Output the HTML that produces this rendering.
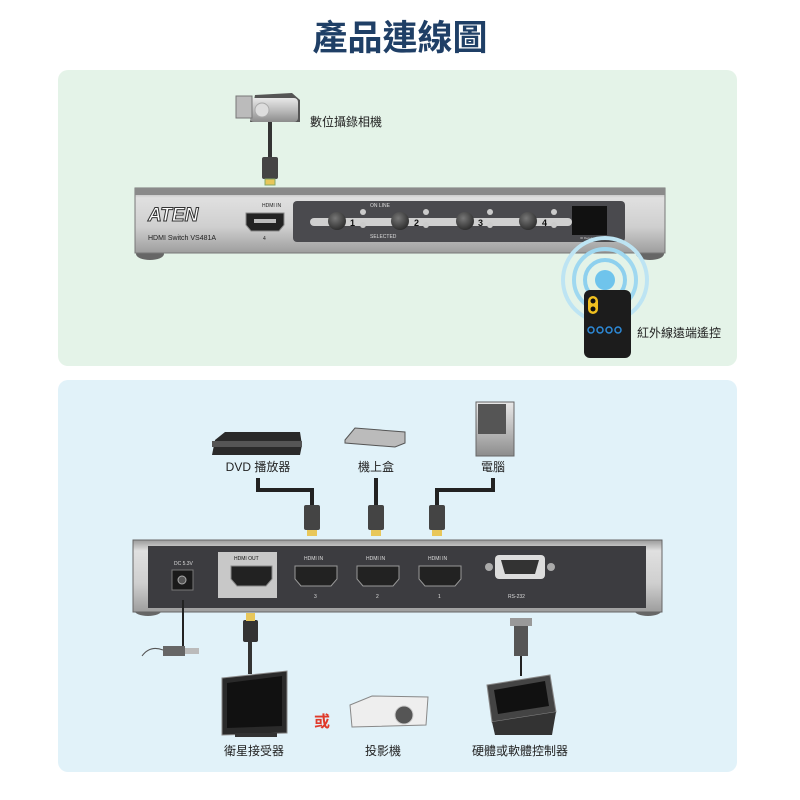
<!DOCTYPE html>
<html><head><meta charset="utf-8"><style>
html,body{margin:0;padding:0;background:#fff;}
svg{display:block}
text{font-family:"Liberation Sans","Noto Sans CJK TC",sans-serif;}
</style></head><body>
<svg width="800" height="800" viewBox="0 0 800 800" xmlns="http://www.w3.org/2000/svg">
<defs>
<linearGradient id="silver" x1="0" y1="0" x2="0" y2="1">
<stop offset="0" stop-color="#e8e8e8"/><stop offset="0.5" stop-color="#bdbdbd"/><stop offset="1" stop-color="#8c8c8c"/></linearGradient>
<linearGradient id="front" x1="0" y1="0" x2="0" y2="1">
<stop offset="0" stop-color="#9a9a9a"/><stop offset="0.15" stop-color="#e0e0e0"/><stop offset="0.6" stop-color="#cfcfcf"/><stop offset="1" stop-color="#9d9d9d"/></linearGradient>
<linearGradient id="dark" x1="0" y1="0" x2="0" y2="1">
<stop offset="0" stop-color="#555"/><stop offset="1" stop-color="#222"/></linearGradient>
<radialGradient id="btn" cx="0.4" cy="0.35" r="0.7"><stop offset="0" stop-color="#777"/><stop offset="1" stop-color="#2a2a2a"/></radialGradient>
</defs>
<text x="400" y="50" text-anchor="middle" font-size="35" font-weight="bold" fill="#1f3f66">產品連線圖</text>

<rect x="58" y="70" width="679" height="296" rx="10" fill="#e4f3e8"/>
<rect x="58" y="380" width="679" height="392" rx="10" fill="#e1f2f9"/>

<!-- camcorder -->
<path d="M255 95 L292 93 L300 100 L300 122 L250 122 Z" fill="#555"/>
<rect x="250" y="98" width="48" height="24" rx="4" fill="url(#silver)"/>
<rect x="236" y="96" width="16" height="22" fill="#bbb" stroke="#777"/>
<circle cx="262" cy="110" r="7" fill="#ddd" stroke="#aaa"/>
<text x="310" y="126" font-size="12" fill="#222">數位攝錄相機</text>
<rect x="268" y="122" width="4" height="36" fill="#333"/>
<rect x="262" y="157" width="16" height="22" rx="2" fill="#444"/>
<rect x="265" y="179" width="10" height="6" fill="#e8c75a" stroke="#8a6"/>

<!-- front device -->
<ellipse cx="150" cy="254" rx="14" ry="6" fill="#666"/>
<ellipse cx="650" cy="254" rx="14" ry="6" fill="#666"/>
<rect x="135" y="188" width="530" height="65" fill="url(#front)" stroke="#777"/>
<rect x="135" y="188" width="530" height="7" fill="#8a8a8a"/>
<text x="148" y="221" font-size="19" font-weight="bold" fill="#fff" stroke="#333" stroke-width="1" font-style="italic">ATEN</text>
<text x="148" y="240" font-size="7" fill="#222">HDMI Switch VS481A</text>
<text x="262" y="207" font-size="5" fill="#222">HDMI IN</text>
<path d="M246 213 H284 V225 L279 231 H251 L246 225 Z" fill="#222" stroke="#888"/>
<rect x="254" y="219" width="22" height="4" fill="#bbb"/>
<text x="263" y="240" font-size="5" fill="#222">4</text>
<rect x="293" y="201" width="332" height="41" rx="4" fill="#4a4a4e"/>
<rect x="310" y="218" width="262" height="8" rx="4" fill="#d0d0d0"/>
<g fill="url(#btn)">
<circle cx="337" cy="221" r="9"/><circle cx="400" cy="221" r="9"/><circle cx="465" cy="221" r="9"/><circle cx="528" cy="221" r="9"/></g>
<g font-size="9" font-weight="bold" fill="#111"><text x="350" y="226">1</text><text x="414" y="226">2</text><text x="478" y="226">3</text><text x="542" y="226">4</text></g>
<g fill="#ccc"><circle cx="363" cy="212" r="3"/><circle cx="363" cy="225" r="3"/><circle cx="426" cy="212" r="3"/><circle cx="426" cy="225" r="3"/><circle cx="490" cy="212" r="3"/><circle cx="490" cy="225" r="3"/><circle cx="554" cy="212" r="3"/><circle cx="554" cy="225" r="3"/></g>
<text x="370" y="207" font-size="5" fill="#ddd">ON LINE</text>
<text x="370" y="238" font-size="5" fill="#ddd">SELECTED</text>
<rect x="572" y="206" width="35" height="29" fill="#111"/>
<text x="580" y="239" font-size="3" fill="#ccc">IR Receiver</text>

<!-- IR -->
<circle cx="605" cy="280" r="42" fill="none" stroke="#bde4f3" stroke-width="4"/>
<circle cx="605" cy="280" r="31" fill="none" stroke="#9fd8f0" stroke-width="4"/>
<circle cx="605" cy="280" r="20" fill="none" stroke="#8ed0ee" stroke-width="4"/>
<circle cx="605" cy="280" r="10" fill="#6fc4ec"/>
<rect x="584" y="290" width="47" height="68" rx="6" fill="#1c1c1c"/>
<rect x="588" y="296" width="10" height="18" rx="5" fill="#f0c020"/>
<circle cx="593" cy="301" r="2.5" fill="#111"/><circle cx="593" cy="309" r="2.5" fill="#111"/>
<g fill="none" stroke="#2d8ad8" stroke-width="1.5"><circle cx="591" cy="330" r="3"/><circle cx="600" cy="330" r="3"/><circle cx="609" cy="330" r="3"/><circle cx="618" cy="330" r="3"/></g>
<text x="637" y="337" font-size="12" fill="#222">紅外線遠端遙控</text>

<!-- bottom sources -->
<path d="M215 440 L225 432 L300 432 L302 445 L300 455 L212 455 Z" fill="#2a2a2a"/>
<rect x="212" y="441" width="90" height="6" fill="#555"/>
<text x="258" y="471" text-anchor="middle" font-size="12" fill="#222">DVD 播放器</text>
<path d="M345 440 L355 428 L405 432 L405 443 L395 447 L345 443 Z" fill="#bbb" stroke="#555"/>
<text x="376" y="471" text-anchor="middle" font-size="12" fill="#222">機上盒</text>
<rect x="476" y="402" width="38" height="54" fill="url(#silver)" stroke="#666"/>
<rect x="478" y="404" width="28" height="30" fill="#555"/>
<text x="493" y="471" text-anchor="middle" font-size="12" fill="#222">電腦</text>
<g fill="none" stroke="#222" stroke-width="4">
<path d="M258 478 V490 H312 V505"/><path d="M376 478 V505"/><path d="M493 478 V490 H437 V505"/></g>
<g fill="#444"><rect x="304" y="505" width="16" height="25" rx="2"/><rect x="368" y="505" width="16" height="25" rx="2"/><rect x="429" y="505" width="16" height="25" rx="2"/></g>
<g fill="#e8c75a"><rect x="307" y="530" width="10" height="6"/><rect x="371" y="530" width="10" height="6"/><rect x="432" y="530" width="10" height="6"/></g>

<!-- back device -->
<ellipse cx="148" cy="610" rx="14" ry="6" fill="#666"/>
<ellipse cx="648" cy="610" rx="14" ry="6" fill="#666"/>
<rect x="133" y="540" width="529" height="72" fill="url(#front)" stroke="#666"/>
<rect x="148" y="546" width="498" height="62" fill="#3c3c40"/>
<text x="174" y="565" font-size="5" fill="#ddd">DC 5.3V</text>
<rect x="172" y="570" width="21" height="20" fill="#1a1a1a" stroke="#777"/>
<circle cx="182" cy="580" r="4" fill="#555" stroke="#aaa"/>
<rect x="218" y="552" width="59" height="46" fill="#c8c8c8"/>
<text x="234" y="560" font-size="5" fill="#111">HDMI OUT</text>
<path d="M231 566 H272 V579 L266 586 H237 L231 579 Z" fill="#222" stroke="#888"/>
<g fill="#222" stroke="#999">
<path d="M295 566 H337 V579 L331 586 H301 L295 579 Z"/>
<path d="M357 566 H399 V579 L393 586 H363 L357 579 Z"/>
<path d="M419 566 H461 V579 L455 586 H425 L419 579 Z"/></g>
<g font-size="5" fill="#ddd"><text x="304" y="560">HDMI IN</text><text x="366" y="560">HDMI IN</text><text x="428" y="560">HDMI IN</text>
<text x="314" y="598">3</text><text x="376" y="598">2</text><text x="438" y="598">1</text><text x="508" y="598">RS-232</text></g>
<rect x="495" y="555" width="50" height="24" rx="4" fill="#ddd"/>
<circle cx="489" cy="567" r="4" fill="#aaa"/><circle cx="551" cy="567" r="4" fill="#aaa"/>
<path d="M501 560 H539 L535 574 H505 Z" fill="#333"/>

<!-- outputs -->
<rect x="182" y="600" width="2" height="50" fill="#222"/>
<path d="M142 656 Q150 645 163 650" fill="none" stroke="#555"/>
<rect x="163" y="646" width="22" height="10" fill="#666"/><rect x="185" y="648" width="14" height="6" fill="#bbb"/>
<rect x="248" y="640" width="4" height="34" fill="#333"/>
<rect x="243" y="620" width="15" height="22" rx="2" fill="#333"/>
<rect x="246" y="613" width="9" height="8" fill="#e8c75a"/>
<path d="M222 678 L287 671 L287 733 L222 735 Z" fill="#2a2a2a" stroke="#888"/>
<path d="M227 683 L282 676 L282 726 L227 728 Z" fill="#111"/>
<rect x="235" y="733" width="42" height="4" fill="#333"/>
<text x="322" y="727" text-anchor="middle" font-size="16" font-weight="bold" fill="#e03a2a">或</text>
<path d="M350 705 L372 696 L428 697 L426 725 L352 727 Z" fill="#eee" stroke="#888"/>
<circle cx="404" cy="715" r="9" fill="#555" stroke="#ccc"/>
<rect x="514" y="618" width="14" height="38" fill="#555"/>
<rect x="510" y="618" width="22" height="8" fill="#999"/>
<rect x="520" y="656" width="2" height="20" fill="#222"/>
<path d="M487 685 L550 675 L556 712 L492 722 Z" fill="#444" stroke="#888"/>
<path d="M494 690 L545 681 L549 706 L498 714 Z" fill="#111"/>
<path d="M492 722 L556 712 L552 735 L495 735 Z" fill="#333"/>
<g font-size="12" fill="#222" text-anchor="middle"><text x="254" y="755">衛星接受器</text><text x="383" y="755">投影機</text><text x="520" y="755">硬體或軟體控制器</text></g>
</svg>
</body></html>
